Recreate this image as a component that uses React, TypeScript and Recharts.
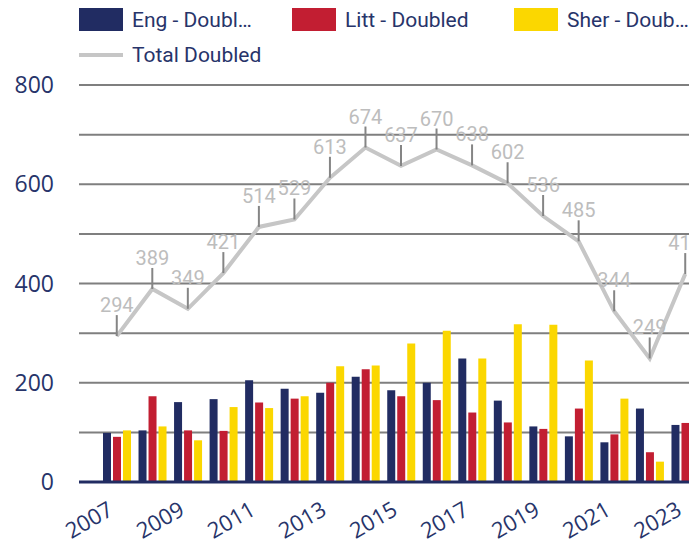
import { Bar, CartesianGrid, ComposedChart, Line, XAxis, YAxis } from "recharts";

const years = [
  "2007", "2008", "2009", "2010", "2011", "2012", "2013", "2014", "2015",
  "2016", "2017", "2018", "2019", "2020", "2021", "2022", "2023",
];
const eng = [99, 104, 161, 167, 205, 188, 180, 212, 185, 200, 249, 164, 112, 92, 80, 148, 115];
const litt = [91, 173, 104, 103, 160, 168, 200, 227, 173, 165, 140, 120, 107, 148, 96, 60, 119];
const sher = [104, 112, 84, 151, 149, 173, 233, 235, 279, 305, 249, 318, 317, 245, 168, 41, 185];
const total = [294, 389, 349, 421, 514, 529, 613, 674, 637, 670, 638, 602, 536, 485, 344, 249, 419];
const yTicks = [0, 100, 200, 300, 400, 500, 600, 700, 800];

const NAVY = "#212c62";
const RED = "#c21e32";
const YELLOW = "#fbd700";
const GREY = "#c6c6c6";
const TEXT = "#27346a";

const legendItems = [
  { name: "Eng - Doubl…", color: NAVY, type: "box", left: 79, top: 8 },
  { name: "Litt - Doubled", color: RED, type: "box", left: 292, top: 8 },
  { name: "Sher - Doub…", color: YELLOW, type: "box", left: 514, top: 8 },
  { name: "Total Doubled", color: GREY, type: "line", left: 79, top: 43 },
];

const data = years.map((year, i) => ({
  year,
  eng: eng[i],
  litt: litt[i],
  sher: sher[i],
  total: total[i],
}));

const YTick = (props: any) => {
  const { y, payload } = props;
  if (payload.value % 200 !== 0) return null;
  return (
    <text x={54} y={y} dy="0.35em" textAnchor="end" fill={TEXT} fontSize={23} fontFamily="Open Sans">
      {payload.value}
    </text>
  );
};

const XTick = (props: any) => {
  const { x, y, payload } = props;
  const ax = x - 2;
  const ay = y + 24;
  return (
    <text x={ax} y={ay} textAnchor="end" fill={TEXT} fontSize={22} fontFamily="Open Sans" transform={`rotate(-30 ${ax} ${ay})`}>
      {payload.value}
    </text>
  );
};

const TotalLabel = (props: any) => {
  const { x, y, value } = props;
  return (
    <g>
      <line x1={x} y1={y} x2={x} y2={y - 21} stroke="#858585" strokeWidth={2} />
      <text x={x} y={y - 24} textAnchor="middle" fill="#bdbdbd" fontSize={20} fontFamily="Roboto">
        {value}
      </text>
    </g>
  );
};

export default function App() {
  return (
    <div style={{ position: "absolute", left: 0, top: 0, width: 689, height: 545, overflow: "hidden", background: "#fff" }}>
      {legendItems.map(item => (
        <div key={item.name} style={{ position: "absolute", left: item.left, top: item.top, display: "flex", alignItems: "center", height: 23 }}>
          {item.type === "box" ? (
            <div style={{ width: 44, height: 23, background: item.color }} />
          ) : (
            <div style={{ width: 44, height: 4, background: item.color }} />
          )}
          <span style={{ marginLeft: 9, fontFamily: "Roboto", fontSize: 21, color: TEXT, whiteSpace: "nowrap" }}>
            {item.name}
          </span>
        </div>
      ))}
      <div style={{ position: "absolute", left: 0, top: 0 }}>
        <ComposedChart
          width={723}
          height={545}
          data={data}
          margin={{ top: 85, right: 0, left: 0, bottom: 0 }}
          barSize={8}
          barGap={2}
        >
          <CartesianGrid horizontal vertical={false} stroke="#7f7f7f" strokeWidth={2} />
          <XAxis
            dataKey="year"
            interval={1}
            padding={{ left: 20, right: 20 }}
            height={63}
            axisLine={{ stroke: NAVY, strokeWidth: 3 }}
            tickLine={false}
            tick={<XTick />}
          />
          <YAxis
            domain={[0, 800]}
            ticks={yTicks}
            width={79}
            axisLine={false}
            tickLine={false}
            tick={<YTick />}
          />
          <Bar dataKey="eng" name="Eng - Doubled" fill={NAVY} isAnimationActive={false} />
          <Bar dataKey="litt" name="Litt - Doubled" fill={RED} isAnimationActive={false} />
          <Bar dataKey="sher" name="Sher - Doubled" fill={YELLOW} isAnimationActive={false} />
          <Line
            dataKey="total"
            name="Total Doubled"
            stroke={GREY}
            strokeWidth={4}
            dot={false}
            label={<TotalLabel />}
            isAnimationActive={false}
          />
        </ComposedChart>
      </div>
    </div>
  );
}
